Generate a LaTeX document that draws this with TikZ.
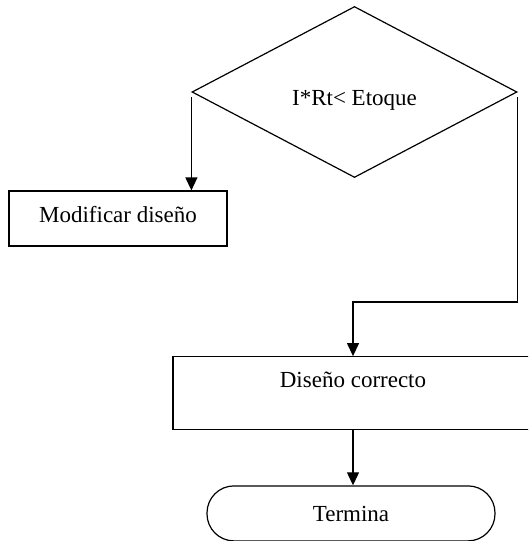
\documentclass[tikz,border=0pt]{standalone}
\usepackage{fontspec}
\setmainfont{Liberation Serif}
\usetikzlibrary{shapes.geometric,arrows.meta,positioning}

\begin{document}
\begin{tikzpicture}[x=1pt, y=1pt,
    font=\fontsize{23}{27}\selectfont,
    box/.style={draw, line width=1.2pt, inner sep=0pt, text height=31pt},
    decision/.style={box, diamond, minimum width=325pt, minimum height=171pt, text depth=5pt},
    proc/.style={box, rectangle, minimum height=55pt},
    term/.style={draw, line width=1.2pt, rectangle, rounded corners=27pt,
        minimum width=288pt, minimum height=55pt, text height=17pt, text depth=0pt},
    arr/.style={line width=1.2pt, -{Triangle[width=12pt,length=13pt]}}]
    \useasboundingbox (0,0) rectangle (528,-541);
    \clip (0,0) rectangle (528,-541);

    \node[decision] at (354.5,-92)           (cond) {I*Rt< Etoque};
    \node[proc, minimum width=218pt, text depth=24pt] at (118,-218.5) (modif) {Modificar diseño};
    \node[proc, minimum width=360pt, text depth=42pt, below=178pt of cond, xshift=-1.5pt]
        (correct) {Diseño correcto};
    \node[term, below=55pt of correct, xshift=-2pt] (fin) {Termina};

    \draw[arr, shorten <=5pt] (cond.west) -- (cond.west |- modif.north);
    \draw[arr, shorten <=5pt] (cond.east) -- ++(0,-210) -| (correct.north);
    \draw[arr] (correct.south) -- (correct.south |- fin.north);
\end{tikzpicture}
\end{document}
